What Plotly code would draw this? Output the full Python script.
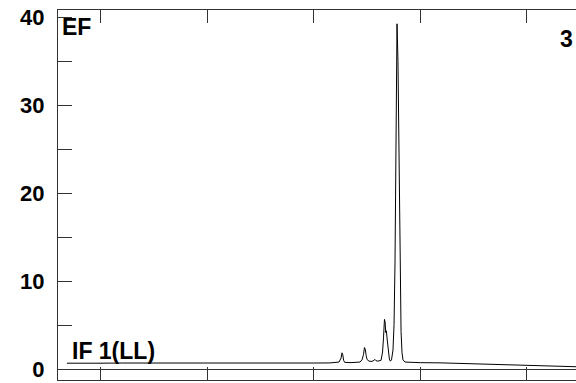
import plotly.graph_objects as go

# Emission trace (x in axis units, tick spacing = 1)
x_vals = [0.680, 0.800, 0.991, 1.200, 1.461, 1.700, 1.930, 2.150, 2.400, 2.650, 2.870, 3.000,
          3.152, 3.209, 3.237, 3.256, 3.265, 3.272, 3.280, 3.290, 3.303, 3.340, 3.397, 3.434,
          3.453, 3.467, 3.476, 3.484, 3.492, 3.500, 3.519, 3.547, 3.565, 3.575, 3.585, 3.603,
          3.632, 3.646, 3.655, 3.664, 3.670, 3.676, 3.682, 3.688, 3.700, 3.710, 3.719, 3.730,
          3.744, 3.754, 3.763, 3.773, 3.782, 3.791, 3.801, 3.810, 3.820, 3.829, 3.838, 3.857,
          3.904, 4.000, 4.186, 4.300, 4.468, 4.600, 4.750, 4.900, 5.060, 5.250, 5.464]
y_vals = [0.72, 0.70, 0.72, 0.74, 0.73, 0.75, 0.75, 0.74, 0.76, 0.75, 0.76, 0.74,
          0.75, 0.80, 0.85, 1.30, 1.90, 1.70, 1.05, 0.82, 0.80, 0.78, 0.82, 0.85,
          1.10, 1.70, 2.50, 2.30, 1.60, 1.15, 0.95, 0.92, 1.05, 1.15, 1.00, 0.95,
          1.05, 2.00, 3.60, 5.70, 5.40, 4.20, 4.40, 3.60, 2.10, 1.20, 0.95, 1.10,
          2.20, 5.10, 12.1, 23.4, 39.3, 35.0, 22.6, 11.3, 4.30, 1.90, 1.10, 0.85,
          0.80, 0.78, 0.76, 0.72, 0.66, 0.60, 0.55, 0.48, 0.42, 0.36, 0.32]

y_ticks = [0, 10, 20, 30, 40]
x_ticks = [1, 2, 3, 4, 5]

FONT = "Liberation Sans, Arial, sans-serif"
AX = "#333333"

fig = go.Figure()
fig.add_trace(go.Scatter(x=x_vals, y=y_vals, mode="lines",
                         line=dict(color="black", width=1), hoverinfo="skip",
                         showlegend=False))

L, R, T, B = 58, 0, 10, 3
W, H = 576, 383

fig.update_layout(
    width=W, height=H,
    margin=dict(l=L, r=R, t=T, b=B, pad=0, autoexpand=False),
    paper_bgcolor="white", plot_bgcolor="white",
    font=dict(family=FONT, color="black"),
    xaxis=dict(range=[0.596, 5.464], tickvals=x_ticks, showticklabels=False,
               ticks="inside", ticklen=13, tickwidth=1, tickcolor=AX,
               showline=True, linecolor=AX, linewidth=1, mirror="ticks",
               showgrid=False, zeroline=False, automargin=False),
    yaxis=dict(range=[-1.19, 40.87], tickvals=y_ticks,
               ticks="inside", ticklen=14, tickwidth=1, tickcolor=AX,
               minor=dict(dtick=5, tick0=0, ticks="inside", ticklen=14,
                          tickwidth=1, tickcolor=AX, showgrid=False),
               showline=True, linecolor=AX, linewidth=1, mirror=False,
               showgrid=False, zeroline=True, zerolinecolor=AX, zerolinewidth=1,
               tickfont=dict(family=FONT, size=22, weight="bold", color="black"),
               ticklabelstandoff=8, automargin=False),
)

def px2paper(px, py):
    return (px - L) / (W - L - R), (H - B - py) / (H - T - B)

labels = [("EF", 61, 27.5), ("IF 1(LL)", 70.5, 351), ("3", 559, 38.5)]
for text, px, py in labels:
    xp, yp = px2paper(px, py)
    fig.add_annotation(text=text, x=xp, y=yp, xref="paper", yref="paper",
                       xanchor="left", yanchor="middle", showarrow=False,
                       borderpad=0,
                       font=dict(family=FONT, size=23, weight="bold", color="black"))

fig.write_html("out.html", config={"displayModeBar": False, "staticPlot": True},
               post_script="document.body.style.margin='0';document.body.style.overflow='hidden';")
